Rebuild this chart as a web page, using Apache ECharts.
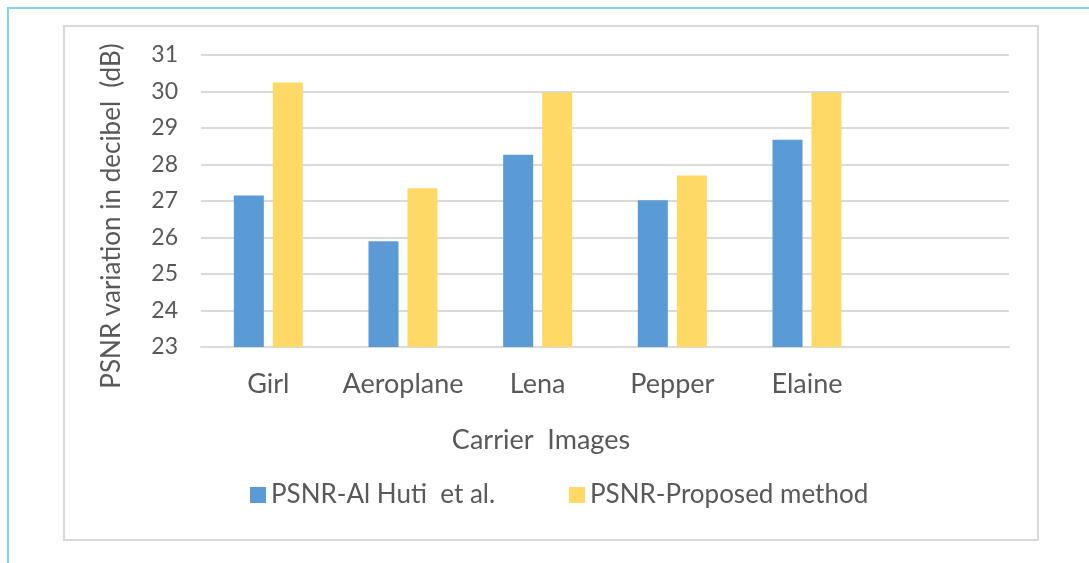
<!DOCTYPE html>
<html>
<head>
<meta charset="utf-8">
<script src="https://cdn.jsdelivr.net/npm/echarts@6/dist/echarts.min.js"></script>
<style>
  html, body { margin: 0; padding: 0; background: #fff; }
  #chart { width: 1089px; height: 563px; }
</style>
</head>
<body>
<div id="chart"></div>
<script>
// 数据
var categories = ['Girl', 'Aeroplane', 'Lena', 'Pepper', 'Elaine', ''];
var alHuti = [27.15, 25.9, 28.27, 27.02, 28.68, null];
var proposed = [30.25, 27.35, 29.97, 27.7, 29.97, null];

var textColor = '#595959';
var font = 'Lato';

var myChart = echarts.init(document.getElementById('chart'));
var option = {
  animation: false,
  textStyle: { fontFamily: font },
  grid: {
    left: 201,
    right: 80,
    top: 55,
    bottom: 216
  },
  legend: [
    {
      data: ['PSNR-Al Huti  et al.'],
      left: 245,
      top: 477,
      icon: 'rect',
      itemWidth: 16,
      itemHeight: 16,
      textStyle: { color: textColor, fontSize: 26, fontFamily: font }
    },
    {
      data: ['PSNR-Proposed method'],
      left: 564,
      top: 477,
      icon: 'rect',
      itemWidth: 16,
      itemHeight: 16,
      textStyle: { color: textColor, fontSize: 26, fontFamily: font }
    }
  ],
  xAxis: {
    type: 'category',
    data: categories,
    axisTick: { show: false },
    axisLine: { lineStyle: { color: '#DADADA', width: 2 } },
    axisLabel: {
      color: textColor,
      fontSize: 27,
      margin: 24,
      interval: 0,
      fontFamily: font
    }
  },
  yAxis: {
    type: 'value',
    min: 23,
    max: 31,
    interval: 1,
    axisLine: { show: false },
    axisTick: { show: false },
    axisLabel: {
      color: textColor,
      fontSize: 23,
      margin: 23,
      fontFamily: font
    },
    splitLine: { lineStyle: { color: '#DADADA', width: 2 } }
  },
  graphic: [
    {
      type: 'rect',
      shape: { x: 8, y: 8, width: 1200, height: 700 },
      style: { fill: 'none', stroke: '#7DD3F2', lineWidth: 2 },
      silent: true,
      z: -10
    },
    {
      type: 'rect',
      shape: { x: 64, y: 26, width: 974, height: 514 },
      style: { fill: 'none', stroke: '#D9D9D9', lineWidth: 2 },
      silent: true,
      z: -10
    },
    {
      type: 'text',
      x: 112,
      y: 216,
      rotation: Math.PI / 2,
      style: {
        text: 'PSNR variation in decibel  (dB)',
        fill: textColor,
        fontSize: 26,
        fontFamily: font,
        align: 'center',
        verticalAlign: 'middle'
      }
    },
    {
      type: 'text',
      x: 541,
      y: 440,
      style: {
        text: 'Carrier  Images',
        fill: textColor,
        fontSize: 27,
        fontFamily: font,
        align: 'center',
        verticalAlign: 'middle'
      }
    }
  ],
  series: [
    {
      name: 'PSNR-Al Huti  et al.',
      type: 'bar',
      data: alHuti,
      barWidth: 30,
      barGap: '30%',
      itemStyle: { color: '#5B9BD5' }
    },
    {
      name: 'PSNR-Proposed method',
      type: 'bar',
      data: proposed,
      barWidth: 30,
      itemStyle: { color: '#FFD966' }
    }
  ]
};
myChart.setOption(option);
</script>
</body>
</html>
